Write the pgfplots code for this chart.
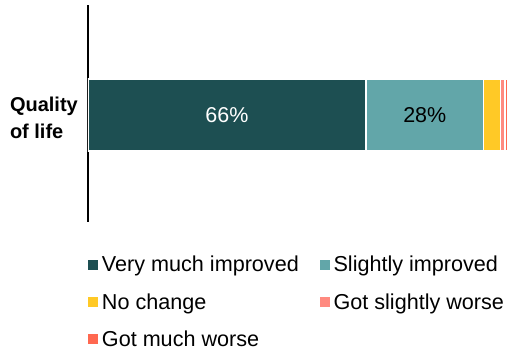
\documentclass[border=0pt]{standalone}
\usepackage{fontspec}
\setmainfont{Liberation Sans}
\setsansfont{Liberation Sans}
\usepackage{pgfplots}
\pgfplotsset{compat=1.18}
\definecolor{cA}{RGB}{29,79,82}
\definecolor{cB}{RGB}{98,166,169}
\definecolor{cC}{RGB}{255,201,38}
\definecolor{cD}{RGB}{255,138,128}
\definecolor{cE}{RGB}{255,104,80}
\begin{document}
\begin{tikzpicture}
\begin{axis}[name=ax, xbar stacked, scale only axis, width=421pt, height=217pt,
  xmin=0, xmax=100, ymin=-1.48, ymax=1.52, bar width=72pt,
  axis x line=none, axis y line*=left, y axis line style={line width=1.6pt,-},
  ytick={0}, yticklabels={{Quality\\of life}},
  yticklabel style={align=left, font=\fontsize{20}{27}\selectfont\bfseries, inner sep=0pt, xshift=-10pt, yshift=-3pt},
  major tick length=0pt,
  /pgf/number format/assume math mode=true,
  legend columns=2,
  legend style={at={(0,0)}, anchor=north west, yshift=-32pt, draw=none, fill=none, inner sep=0pt,
    font=\fontsize{21.6}{24}\selectfont, row sep=16pt,
    /tikz/every even column/.append style={column sep=19pt}},
  legend cell align=left,
  legend image code/.code={\fill[#1,draw=none] (0pt,-5pt) rectangle (10pt,5pt); \path (11pt,0pt);},
]
\addplot[fill=cA, draw=white, line width=1.5pt] coordinates {(66,0)};
\addplot[fill=cB, draw=white, line width=1.5pt] coordinates {(28,0)};
\addplot[fill=cC, draw=white, line width=1.5pt] coordinates {(4,0)};
\addplot[fill=cD, draw=white, line width=1.5pt] coordinates {(1,0)};
\addplot[fill=cE, draw=white, line width=1.5pt] coordinates {(1,0)};
\legend{Very much improved, Slightly improved, No change, Got slightly worse, Got much worse}
\coordinate (pA) at (axis cs:33,0);
\coordinate (pB) at (axis cs:80,0);
\end{axis}
\node[white, font=\fontsize{21.5}{24}\selectfont] at (pA) {66\%};
\node[black, font=\fontsize{21.5}{24}\selectfont] at (pB) {28\%};
\pgfresetboundingbox
\path ([shift={(-88pt,-131pt)}]ax.south west) rectangle ([shift={(419pt,222pt)}]ax.south west);
\end{tikzpicture}
\end{document}
